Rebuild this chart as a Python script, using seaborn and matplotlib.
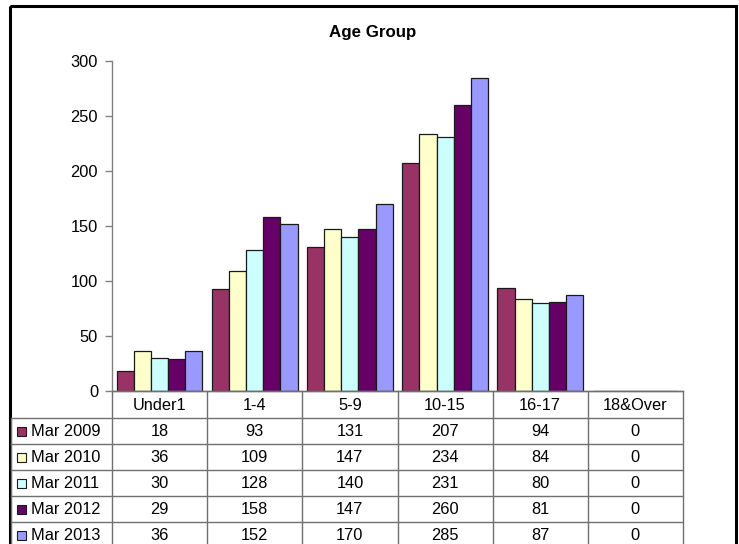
import matplotlib
matplotlib.use("Agg")
import matplotlib.pyplot as plt
import pandas as pd
import seaborn as sns
from matplotlib.patches import Rectangle
from matplotlib.lines import Line2D

# ---- data ---------------------------------------------------------------
age_groups = ["Under1", "1-4", "5-9", "10-15", "16-17", "18&Over"]
periods = ["Mar 2009", "Mar 2010", "Mar 2011", "Mar 2012", "Mar 2013"]
mar_2009 = [18, 93, 131, 207, 94, 0]
mar_2010 = [36, 109, 147, 234, 84, 0]
mar_2011 = [30, 128, 140, 231, 80, 0]
mar_2012 = [29, 158, 147, 260, 81, 0]
mar_2013 = [36, 152, 170, 285, 87, 0]
series = [mar_2009, mar_2010, mar_2011, mar_2012, mar_2013]
y_ticks = [0, 50, 100, 150, 200, 250, 300]
title = "Age Group"

colors = ["#993366", "#FFFFCC", "#CCFFFF", "#660066", "#9999FF"]

df = pd.DataFrame(
    [(age, per, vals[i]) for per, vals in zip(periods, series)
     for i, age in enumerate(age_groups)],
    columns=["age", "period", "count"],
)

# ---- style --------------------------------------------------------------
sns.set_theme(style="white")
plt.rcParams["font.family"] = ["Liberation Sans", "DejaVu Sans"]
FS = 11.8
GRID = "#707070"

W, H = 739, 544
fig = plt.figure(figsize=(W / 100, H / 100), dpi=100)
fig.patch.set_facecolor("white")

# plot area in pixel units
plot_l, plot_r, plot_top, plot_bot = 112, 683, 61, 391
ax = fig.add_axes([plot_l / W, 1 - plot_bot / H,
                   (plot_r - plot_l) / W, (plot_bot - plot_top) / H])

sns.barplot(data=df, x="age", y="count", hue="period",
            order=age_groups, hue_order=periods, palette=colors,
            saturation=1, width=0.9, edgecolor="#1a1a1a", linewidth=0.9,
            legend=False, ax=ax)

ax.set_xlim(-0.5, len(age_groups) - 0.5)
ax.set_ylim(y_ticks[0], y_ticks[-1])
ax.set_yticks(y_ticks)
ax.set_xticks([])
ax.set_xlabel("")
ax.set_ylabel("")
ax.tick_params(axis="y", left=True, length=5, width=1, color="#808080",
               direction="out", pad=5, labelsize=FS, labelcolor="black")
for s in ("top", "right"):
    ax.spines[s].set_visible(False)
for s in ("left", "bottom"):
    ax.spines[s].set_color("#808080")
    ax.spines[s].set_linewidth(1)
ax.set_facecolor("none")

# ---- data table drawn in pixel coordinates ------------------------------
tab = fig.add_axes([0, 0, 1, 1], zorder=5)
tab.set_xlim(0, W)
tab.set_ylim(H, 0)
tab.axis("off")

n = len(age_groups)
col_w = (plot_r - plot_l) / n
col_edges = [plot_l + i * col_w for i in range(n + 1)]
table_left = 11
header_h = 27
row_h = 26
row_top = plot_bot + header_h
bottom_ext = H + 10

def hline(y, x0, x1):
    tab.add_line(Line2D([x0, x1], [y, y], color=GRID, lw=1))

def vline(x, y0, y1):
    tab.add_line(Line2D([x, x], [y0, y1], color=GRID, lw=1))

hline(plot_bot, plot_l, plot_r)
for k in range(len(periods) + 1):
    hline(row_top + k * row_h, table_left, plot_r)
vline(table_left, row_top, bottom_ext)
for x in col_edges:
    vline(x, plot_bot, bottom_ext)

for i, age in enumerate(age_groups):
    cx = col_edges[i] + col_w / 2
    tab.text(cx, plot_bot + header_h / 2 + 1, age, ha="center", va="center",
             fontsize=FS, color="black")

for r, (per, vals, col) in enumerate(zip(periods, series, colors)):
    cy = row_top + r * row_h + row_h / 2 + 1
    tab.add_patch(Rectangle((16.5, cy - 5), 9, 9, facecolor=col,
                            edgecolor="#1a1a1a", lw=0.8))
    tab.text(31, cy, per, ha="left", va="center", fontsize=FS, color="black")
    for i, v in enumerate(vals):
        cx = col_edges[i] + col_w / 2
        tab.text(cx, cy, str(v), ha="center", va="center", fontsize=FS,
                 color="black")

# chart title and outer frame
tab.text(372.5, 32, title, ha="center", va="center", fontsize=12.2,
         fontweight="bold", color="black")
tab.add_patch(Rectangle((9.5, 5.5), 726, 600, fill=False, lw=2.2,
                        edgecolor="black", clip_on=True))

fig.savefig("out.png", dpi=100)
